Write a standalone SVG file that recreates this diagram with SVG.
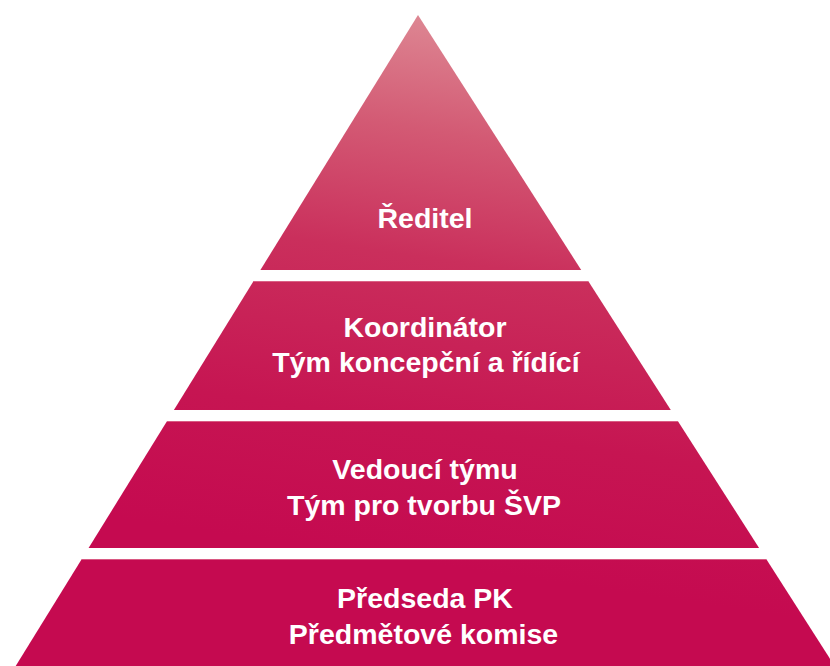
<svg xmlns="http://www.w3.org/2000/svg" width="830" height="666" viewBox="0 0 830 666">
  <defs>
    <linearGradient id="pg" gradientUnits="userSpaceOnUse" x1="480" y1="15" x2="400" y2="560">
      <stop offset="0" stop-color="#de8a95"/>
      <stop offset="0.22" stop-color="#d35a74"/>
      <stop offset="0.45" stop-color="#ca2f5c"/>
      <stop offset="0.75" stop-color="#c61552"/>
      <stop offset="1" stop-color="#c50a50"/>
    </linearGradient>
  </defs>
  <style>
    .band { fill: url(#pg); }
    .edge { stroke: #e27a98; stroke-width: 1; opacity: 0.7; }
    .lbl { font-family: "Liberation Sans", Arial, sans-serif; font-weight: bold; font-size: 28.5px; fill: #ffffff; text-anchor: middle; }
  </style>
  <rect width="830" height="666" fill="#ffffff"/>
  <g id="node-reditel">
    <polygon class="band" points="418,15 581.2,270 260.4,270"/>
    <text class="lbl" x="425" y="228">Ředitel</text>
  </g>
  <g id="node-koordinator">
    <polygon class="band" points="253.6,281 588.2,281 670.8,410 173.9,410"/>
    <line class="edge" x1="254" y1="281.5" x2="588" y2="281.5"/>
    <text class="lbl" x="425" y="337">Koordinátor</text>
    <text class="lbl" x="426" y="372">Tým koncepční a řídící</text>
  </g>
  <g id="node-vedouci">
    <polygon class="band" points="167.1,421 677.8,421 759.1,548 88.6,548"/>
    <line class="edge" x1="167" y1="421.5" x2="678" y2="421.5"/>
    <text class="lbl" x="425" y="479">Vedoucí týmu</text>
    <text class="lbl" x="424" y="515">Tým pro tvorbu ŠVP</text>
  </g>
  <g id="node-predseda">
    <polygon class="band" points="81.8,559 766.2,559 834.6,666 15.7,666"/>
    <line class="edge" x1="82" y1="559.5" x2="766" y2="559.5"/>
    <text class="lbl" x="425" y="608">Předseda PK</text>
    <text class="lbl" x="423.5" y="644">Předmětové komise</text>
  </g>
  <g id="connectors"/>
</svg>
